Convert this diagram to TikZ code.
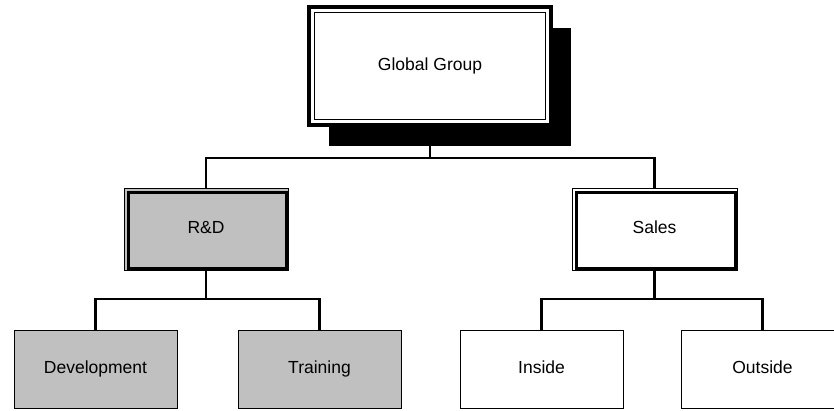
\documentclass[tikz,border=0pt]{standalone}
\usepackage{fontspec}
\setmainfont{Liberation Sans}
\usetikzlibrary{shadows}

\definecolor{boxgray}{RGB}{192,192,192}

\tikzset{
  orgbox/.style={rectangle, draw=black, line width=1pt, fill=white,
    minimum width=163pt, minimum height=78pt, inner sep=0pt,
    text height=12.5pt, text depth=3.5pt,
    font=\fontsize{17.5}{21}\selectfont},
  framed/.style={path picture={
    \draw[line width=3.5pt]
      ([shift={(4.5pt,-4.5pt)}]path picture bounding box.north west) rectangle
      ([shift={(-1.5pt,1.5pt)}]path picture bounding box.south east);}},
  topbox/.style={orgbox, line width=4pt, minimum width=242pt, minimum height=118pt,
    drop shadow={shadow xshift=20pt, shadow yshift=-21pt, fill=black, opacity=1},
    path picture={
    \draw[line width=1.5pt]
      ([shift={(5.5pt,-5.5pt)}]path picture bounding box.north west) rectangle
      ([shift={(-5.5pt,5.5pt)}]path picture bounding box.south east);}},
  link/.style={line width=2.5pt}
}

\begin{document}
\begin{tikzpicture}[x=1pt, y=-1pt]
  \useasboundingbox (0,0) rectangle (834,410);

  % top of the chart
  \node[topbox] (global) at (430,66) {Global Group};

  % second level
  \node[orgbox, framed, fill=boxgray, minimum width=164pt, minimum height=82pt] (rd) at (206,229) {R\&D};
  \node[orgbox, framed, minimum width=165pt, minimum height=82pt] (sales) at (654.5,229) {Sales};

  % third level
  \node[orgbox, fill=boxgray] (dev) at (95.5,369) {Development};
  \node[orgbox, fill=boxgray] (train) at (319.5,369) {Training};
  \node[orgbox] (inside) at (541.5,369) {Inside};
  \node[orgbox] (outside) at (762.5,369) {Outside};

  % connectors
  \coordinate (bus1) at (430,158);
  \coordinate (bus2) at (206,299);
  \coordinate (bus3) at (654.5,299);
  \draw[link] (global.south) -- (bus1) -| (rd.north);
  \draw[link] (bus1) -| (sales.north);
  \draw[link] (rd.south) -- (bus2) -| (dev.north);
  \draw[link] (bus2) -| (train.north);
  \draw[link] (sales.south) -- (bus3) -| (inside.north);
  \draw[link] (bus3) -| (outside.north);

\end{tikzpicture}
\end{document}
